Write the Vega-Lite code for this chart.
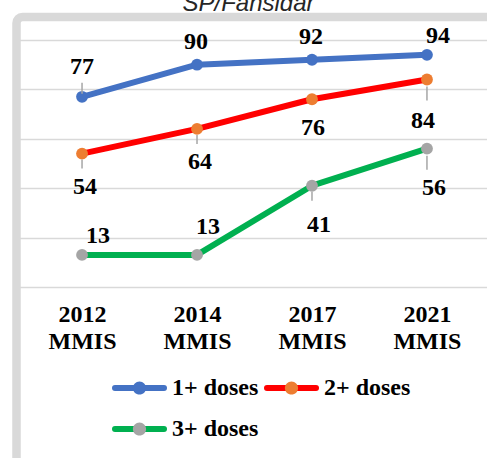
{
  "$schema": "https://vega.github.io/schema/vega-lite/v6.json",
  "width": 476,
  "height": 448,
  "autosize": {"type": "none"},
  "padding": {"left": 16.5, "top": 17, "right": -5.5, "bottom": -7},
  "background": "#ffffff",
  "config": {
    "view": {"stroke": "#d9d9d9", "strokeWidth": 8.5, "cornerRadius": 6, "fill": "#ffffff"}
  },
  "title": {
    "text": "SP/Fansidar",
    "font": "Liberation Sans",
    "fontSize": 24,
    "fontStyle": "italic",
    "fontWeight": "normal",
    "color": "#262626",
    "baseline": "alphabetic",
    "offset": -18,
    "dx": -6
  },
  "data": {
    "values": [
      {"survey": "2012 MMIS", "series": "1+ doses", "value": 77},
      {"survey": "2014 MMIS", "series": "1+ doses", "value": 90},
      {"survey": "2017 MMIS", "series": "1+ doses", "value": 92},
      {"survey": "2021 MMIS", "series": "1+ doses", "value": 94},
      {"survey": "2012 MMIS", "series": "2+ doses", "value": 54},
      {"survey": "2014 MMIS", "series": "2+ doses", "value": 64},
      {"survey": "2017 MMIS", "series": "2+ doses", "value": 76},
      {"survey": "2021 MMIS", "series": "2+ doses", "value": 84},
      {"survey": "2012 MMIS", "series": "3+ doses", "value": 13},
      {"survey": "2014 MMIS", "series": "3+ doses", "value": 13},
      {"survey": "2017 MMIS", "series": "3+ doses", "value": 41},
      {"survey": "2021 MMIS", "series": "3+ doses", "value": 56}
    ]
  },
  "encoding": {
    "x": {
      "field": "survey",
      "type": "nominal",
      "sort": ["2012 MMIS", "2014 MMIS", "2017 MMIS", "2021 MMIS"],
      "scale": {"type": "point", "padding": 0.57},
      "axis": {
        "title": null,
        "orient": "bottom",
        "offset": -163,
        "domain": false,
        "ticks": false,
        "grid": false,
        "labelAngle": 0,
        "labelExpr": "split(datum.label, ' ')",
        "labelFont": "Liberation Serif",
        "labelFontWeight": "bold",
        "labelFontSize": 24,
        "labelColor": "#000000",
        "labelLineHeight": 27,
        "labelPadding": 0,
        "labelBaseline": "top"
      }
    },
    "y": {
      "field": "value",
      "type": "quantitative",
      "scale": {"domain": [-72.07, 109.31], "nice": false, "zero": false},
      "axis": {
        "title": null,
        "domain": false,
        "ticks": false,
        "labels": false,
        "grid": true,
        "values": [0, 20, 40, 60, 80, 100],
        "gridColor": "#d9d9d9",
        "gridWidth": 1.3
      }
    }
  },
  "layer": [
    {
      "mark": {"type": "line", "strokeWidth": 6, "strokeCap": "round", "strokeJoin": "round"},
      "encoding": {
        "color": {
          "field": "series",
          "type": "nominal",
          "scale": {"domain": ["1+ doses", "2+ doses", "3+ doses"], "range": ["#4472c4", "#ff0000", "#00b050"]},
          "legend": {
            "title": null,
            "orient": "none",
            "legendX": 95.5,
            "legendY": 350.5,
            "direction": "horizontal",
            "columns": 2,
            "padding": 0,
            "clipHeight": 41,
            "symbolType": "M-1,0L1,0",
            "symbolSize": 2401,
            "symbolStrokeWidth": 6,
            "labelFont": "Liberation Serif",
            "labelFontWeight": "bold",
            "labelFontSize": 24,
            "labelColor": "#000000",
            "labelOffset": 5,
            "columnPadding": 5,
            "rowPadding": 0,
            "encode": {"symbols": {"update": {"strokeCap": {"value": "round"}}}}
          }
        }
      }
    },
    {
      "mark": {"type": "point", "filled": true, "size": 140, "opacity": 1},
      "encoding": {
        "fill": {
          "field": "series",
          "type": "nominal",
          "scale": {"range": ["#4472c4", "#ed7d31", "#a5a5a5"]},
          "legend": {
            "title": null,
            "orient": "none",
            "legendX": 95.5,
            "legendY": 350.5,
            "direction": "horizontal",
            "columns": 2,
            "padding": 0,
            "clipHeight": 41,
            "symbolType": "M-1,0L1,0M0.27,0C0.27,0.149 0.149,0.27 0,0.27C-0.149,0.27 -0.27,0.149 -0.27,0C-0.27,-0.149 -0.149,-0.27 0,-0.27C0.149,-0.27 0.27,-0.149 0.27,0Z",
            "symbolSize": 2401,
            "symbolStrokeWidth": 6,
            "symbolStrokeColor": "transparent",
            "symbolOpacity": 1,
            "labelFont": "Liberation Serif",
            "labelFontWeight": "bold",
            "labelFontSize": 24,
            "labelColor": "transparent",
            "labelOffset": 5,
            "columnPadding": 5,
            "rowPadding": 0
          }
        }
      }
    },
    {
      "transform": [{"filter": "(datum.series == '2+ doses' && (datum.survey == '2012 MMIS' || datum.survey == '2014 MMIS')) || (datum.series == '3+ doses' && datum.survey == '2017 MMIS')"}],
      "mark": {"type": "rule", "color": "#a6a6a6", "strokeWidth": 1.5, "yOffset": 6, "y2Offset": 15},
      "encoding": {"y2": {"field": "value"}}
    },
    {
      "transform": [{"filter": "datum.survey == '2021 MMIS' && (datum.series == '2+ doses' || datum.series == '3+ doses')"}],
      "mark": {"type": "rule", "color": "#a6a6a6", "strokeWidth": 1.5, "yOffset": 7, "y2Offset": 21},
      "encoding": {"y2": {"field": "value"}}
    },
    {
      "transform": [{"filter": "datum.series == '1+ doses' && datum.survey == '2012 MMIS'"}],
      "mark": {"type": "rule", "color": "#a6a6a6", "strokeWidth": 1.5, "yOffset": -14, "y2Offset": -3},
      "encoding": {"y2": {"field": "value"}}
    },
    {
      "transform": [{"filter": "datum.series == '1+ doses' && datum.survey == '2012 MMIS'"}],
      "mark": {"type": "text", "font": "Liberation Serif", "fontWeight": "bold", "fontSize": 24, "color": "#000000", "baseline": "middle", "align": "center", "dy": -30},
      "encoding": {"text": {"field": "value", "type": "quantitative"}}
    },
    {
      "transform": [{"filter": "datum.series == '1+ doses' && (datum.survey == '2014 MMIS' || datum.survey == '2017 MMIS')"}],
      "mark": {"type": "text", "font": "Liberation Serif", "fontWeight": "bold", "fontSize": 24, "color": "#000000", "baseline": "middle", "align": "center", "dy": -23, "dx": -1},
      "encoding": {"text": {"field": "value", "type": "quantitative"}}
    },
    {
      "transform": [{"filter": "datum.series == '1+ doses' && datum.survey == '2021 MMIS'"}],
      "mark": {"type": "text", "font": "Liberation Serif", "fontWeight": "bold", "fontSize": 24, "color": "#000000", "baseline": "middle", "align": "center", "dy": -19, "dx": 11},
      "encoding": {"text": {"field": "value", "type": "quantitative"}}
    },
    {
      "transform": [{"filter": "datum.series == '2+ doses' && (datum.survey == '2012 MMIS' || datum.survey == '2014 MMIS')"}],
      "mark": {"type": "text", "font": "Liberation Serif", "fontWeight": "bold", "fontSize": 24, "color": "#000000", "baseline": "middle", "align": "center", "dy": 33, "dx": 3},
      "encoding": {"text": {"field": "value", "type": "quantitative"}}
    },
    {
      "transform": [{"filter": "datum.series == '2+ doses' && datum.survey == '2017 MMIS'"}],
      "mark": {"type": "text", "font": "Liberation Serif", "fontWeight": "bold", "fontSize": 24, "color": "#000000", "baseline": "middle", "align": "center", "dy": 28.5, "dx": 1},
      "encoding": {"text": {"field": "value", "type": "quantitative"}}
    },
    {
      "transform": [{"filter": "datum.series == '2+ doses' && datum.survey == '2021 MMIS'"}],
      "mark": {"type": "text", "font": "Liberation Serif", "fontWeight": "bold", "fontSize": 24, "color": "#000000", "baseline": "middle", "align": "center", "dy": 41, "dx": -4},
      "encoding": {"text": {"field": "value", "type": "quantitative"}}
    },
    {
      "transform": [{"filter": "datum.series == '3+ doses' && datum.survey == '2012 MMIS'"}],
      "mark": {"type": "text", "font": "Liberation Serif", "fontWeight": "bold", "fontSize": 24, "color": "#000000", "baseline": "middle", "align": "center", "dy": -18.5, "dx": 16},
      "encoding": {"text": {"field": "value", "type": "quantitative"}}
    },
    {
      "transform": [{"filter": "datum.series == '3+ doses' && datum.survey == '2014 MMIS'"}],
      "mark": {"type": "text", "font": "Liberation Serif", "fontWeight": "bold", "fontSize": 24, "color": "#000000", "baseline": "middle", "align": "center", "dy": -28, "dx": 11},
      "encoding": {"text": {"field": "value", "type": "quantitative"}}
    },
    {
      "transform": [{"filter": "datum.series == '3+ doses' && (datum.survey == '2017 MMIS' || datum.survey == '2021 MMIS')"}],
      "mark": {"type": "text", "font": "Liberation Serif", "fontWeight": "bold", "fontSize": 24, "color": "#000000", "baseline": "middle", "align": "center", "dy": 39, "dx": 7},
      "encoding": {"text": {"field": "value", "type": "quantitative"}}
    }
  ]
}
